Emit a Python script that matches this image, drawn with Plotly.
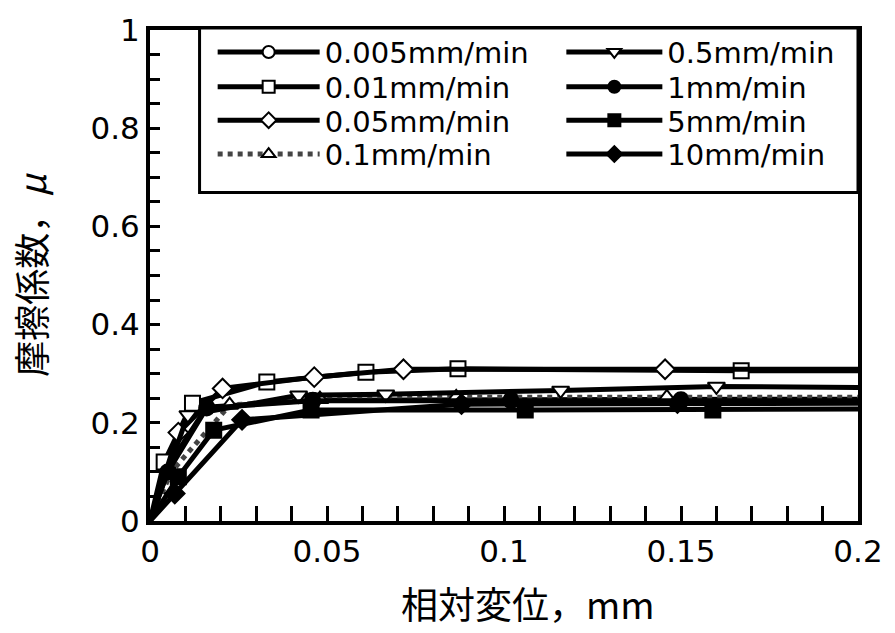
import plotly.graph_objects as go

# ---- data ----
names = ["0.005mm/min", "0.01mm/min", "0.05mm/min", "0.1mm/min",
         "0.5mm/min", "1mm/min", "5mm/min", "10mm/min"]

x_0005 = [0, 0.005, 0.016, 0.046, 0.102, 0.150, 0.200]
y_0005 = [0, 0.110, 0.232, 0.246, 0.247, 0.247, 0.248]

x_001 = [0, 0.004, 0.012, 0.033, 0.061, 0.087, 0.167, 0.200]
y_001 = [0, 0.120, 0.240, 0.283, 0.303, 0.310, 0.306, 0.306]

x_005 = [0, 0.008, 0.0205, 0.0464, 0.0716, 0.1455, 0.200]
y_005 = [0, 0.180, 0.270, 0.293, 0.309, 0.309, 0.309]

x_01 = [0, 0.006, 0.0225, 0.048, 0.0865, 0.146, 0.200]
y_01 = [0, 0.100, 0.236, 0.248, 0.252, 0.252, 0.252]

x_05 = [0, 0.0107, 0.042, 0.0666, 0.116, 0.160, 0.200]
y_05 = [0, 0.216, 0.256, 0.258, 0.266, 0.274, 0.272]

x_1 = [0, 0.005, 0.016, 0.046, 0.102, 0.150, 0.200]
y_1 = [0, 0.100, 0.230, 0.245, 0.245, 0.245, 0.245]

x_5 = [0, 0.008, 0.018, 0.0455, 0.106, 0.159, 0.200]
y_5 = [0, 0.090, 0.185, 0.226, 0.226, 0.226, 0.228]

x_10 = [0, 0.007, 0.026, 0.088, 0.149, 0.200]
y_10 = [0, 0.056, 0.206, 0.238, 0.240, 0.240]

xs = [x_0005, x_001, x_005, x_01, x_05, x_1, x_5, x_10]
ys = [y_0005, y_001, y_005, y_01, y_05, y_1, y_5, y_10]

x_title = "相対変位，mm"
y_title = "摩擦係数，<i>μ</i>"

symbols = ["circle", "square", "diamond", "triangle-up",
           "triangle-down", "circle", "square", "diamond"]
fills = ["white", "white", "white", "white", "white", "black", "black", "black"]
line_colors = ["black", "black", "black", "#444444", "black", "black", "black", "black"]
dashes = ["solid", "solid", "solid", "dot", "solid", "solid", "solid", "solid"]

# legend entry placement (two columns of four)
leg_x = [0.0885, 0.0885, 0.0885, 0.0885, 0.581, 0.581, 0.581, 0.581]
leg_y = [0.955, 0.884, 0.816, 0.747, 0.955, 0.884, 0.816, 0.747]

txt_font = "DejaVu Sans, Liberation Sans, sans-serif"
cjk_font = "Noto Sans CJK JP, DejaVu Sans, sans-serif"

fig = go.Figure()
for i in range(8):
    n = len(xs[i])
    sizes = [15] * n
    sizes[0] = 0
    sizes[-1] = 0
    lid = "legend%d" % (i + 2)
    fig.add_trace(go.Scatter(
        x=xs[i], y=ys[i], name=names[i], mode="lines+markers",
        line=dict(color=line_colors[i], width=5, dash=dashes[i]),
        marker=dict(symbol=symbols[i], size=sizes, color=fills[i], opacity=1,
                    line=dict(color="black", width=2)),
        legend=lid, showlegend=True,
    ))

fig.add_shape(type="rect", xref="paper", yref="paper",
              x0=0.070, x1=1.0, y0=0.669, y1=1.004,
              line=dict(color="black", width=3), fillcolor="white", layer="above")

fig.add_annotation(text=x_title, xref="paper", yref="paper",
                   x=0.534, y=-0.166, xanchor="center", yanchor="middle",
                   showarrow=False, font=dict(size=37, family=cjk_font, color="black"))

legends = {}
for i in range(8):
    lid = "legend%d" % (i + 2)
    legends[lid] = dict(
        x=leg_x[i], y=leg_y[i], xanchor="left", yanchor="middle",
        font=dict(family=txt_font, size=29, color="black"),
        bgcolor="rgba(0,0,0,0)", borderwidth=0,
        itemwidth=102 if i < 4 else 96, itemsizing="constant",
    )

fig.update_layout(
    width=895, height=633,
    margin=dict(l=150, r=33, t=22, b=112),
    paper_bgcolor="white", plot_bgcolor="white",
    font=dict(family=txt_font, color="black"),
    xaxis=dict(range=[0, 0.2], dtick=0.05, tickformat="~g",
               showgrid=False, zeroline=False,
               showline=True, linecolor="black", linewidth=4, mirror=True,
               ticks="inside", ticklen=15, tickwidth=3, tickcolor="black",
               minor=dict(dtick=0.01, ticks="inside", ticklen=15, tickwidth=3,
                          tickcolor="black", showgrid=False),
               tickfont=dict(size=31, family=txt_font)),
    yaxis=dict(range=[0, 1], dtick=0.2, tickformat="~g",
               showgrid=False, zeroline=False,
               showline=True, linecolor="black", linewidth=4, mirror=True,
               ticks="inside", ticklen=10, tickwidth=3, tickcolor="black",
               minor=dict(dtick=0.05, ticks="inside", ticklen=10, tickwidth=3,
                          tickcolor="black", showgrid=False),
               tickfont=dict(size=31, family=txt_font),
               title=dict(text=y_title, font=dict(size=36, family=cjk_font),
                          standoff=34)),
    **legends,
)

fig.write_html("out.html")
